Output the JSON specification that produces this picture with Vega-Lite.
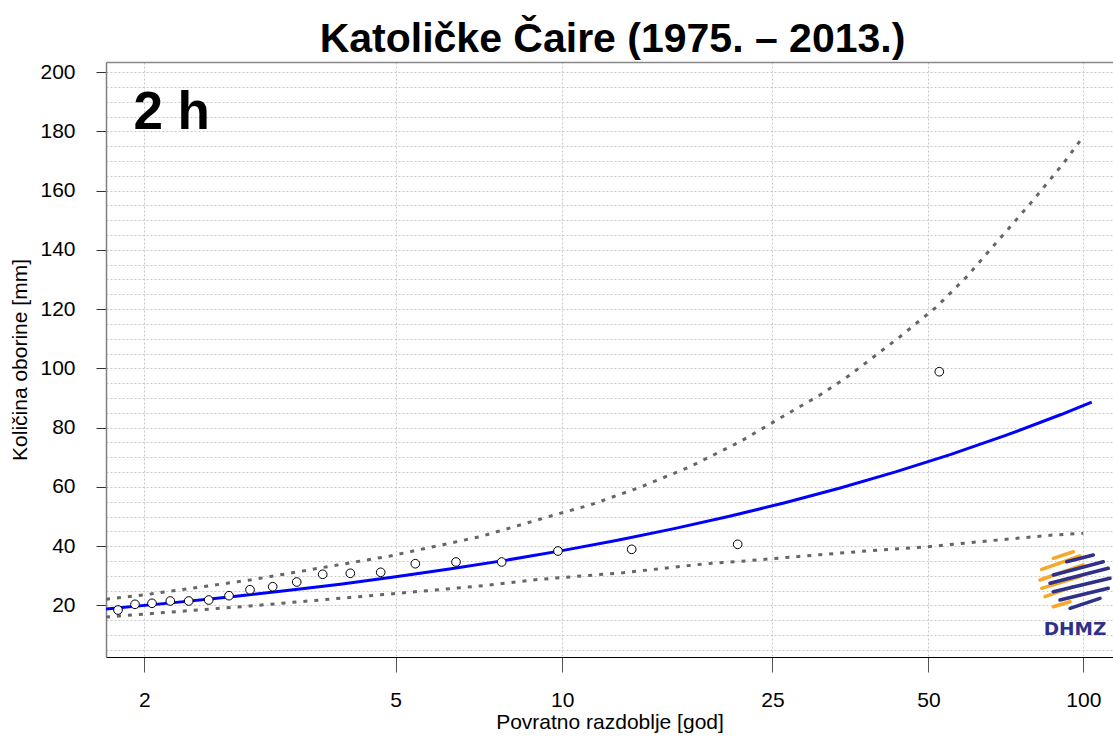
{
  "$schema": "https://vega.github.io/schema/vega-lite/v6.json",
  "width": 1007,
  "height": 595,
  "autosize": {"type": "none"},
  "padding": {"left": 106, "top": 62, "right": 0, "bottom": 80},
  "background": "white",
  "title": {
    "text": "Katoličke Čaire (1975. – 2013.)",
    "font": "Liberation Sans",
    "fontSize": 41,
    "fontWeight": "bold",
    "color": "black",
    "anchor": "middle",
    "baseline": "alphabetic",
    "offset": -42,
    "dx": 3
  },
  "config": {"view": {"stroke": null}, "font": "Liberation Sans"},
  "datasets": {
    "points": [
      {"u": 0.2479, "mm": 18.46}, {"u": 0.3245, "mm": 20.38}, {"u": 0.4012, "mm": 20.72},
      {"u": 0.4837, "mm": 21.5}, {"u": 0.5667, "mm": 21.5}, {"u": 0.6568, "mm": 21.83},
      {"u": 0.7484, "mm": 23.29}, {"u": 0.843, "mm": 25.31}, {"u": 0.9454, "mm": 26.32},
      {"u": 1.0536, "mm": 27.91}, {"u": 1.1708, "mm": 30.51}, {"u": 1.2953, "mm": 30.85},
      {"u": 1.4323, "mm": 31.18}, {"u": 1.5883, "mm": 34.08}, {"u": 1.7718, "mm": 34.66},
      {"u": 1.9778, "mm": 34.66}, {"u": 2.2317, "mm": 38.37}, {"u": 2.5639, "mm": 38.94},
      {"u": 3.0418, "mm": 40.63}, {"u": 3.9508, "mm": 98.88}
    ],
    "fit": [
      {"u": 0.1938, "mm": 18.83}, {"u": 0.5, "mm": 20.95}, {"u": 0.75, "mm": 22.85},
      {"u": 1.0, "mm": 24.92}, {"u": 1.25, "mm": 27.18}, {"u": 1.5, "mm": 29.65},
      {"u": 1.75, "mm": 32.35}, {"u": 2.0, "mm": 35.29}, {"u": 2.25, "mm": 38.5},
      {"u": 2.5, "mm": 42.01}, {"u": 2.75, "mm": 45.84}, {"u": 3.0, "mm": 50.01},
      {"u": 3.25, "mm": 54.57}, {"u": 3.5, "mm": 59.55}, {"u": 3.75, "mm": 64.97},
      {"u": 4.0, "mm": 70.9}, {"u": 4.25, "mm": 77.37}, {"u": 4.5, "mm": 84.43},
      {"u": 4.638, "mm": 88.6}
    ],
    "upper": [
      {"u": 0.1938, "mm": 22.1}, {"u": 0.362, "mm": 23.52}, {"u": 0.843, "mm": 28.58},
      {"u": 1.4742, "mm": 36.68}, {"u": 1.88, "mm": 43.2}, {"u": 2.2407, "mm": 51.09},
      {"u": 2.376, "mm": 53.89}, {"u": 2.6014, "mm": 59.87}, {"u": 2.8268, "mm": 66.82},
      {"u": 3.0523, "mm": 75.26}, {"u": 3.2777, "mm": 85.18}, {"u": 3.413, "mm": 91.02},
      {"u": 3.5482, "mm": 97.77}, {"u": 3.7737, "mm": 110.69}, {"u": 3.9392, "mm": 120.82},
      {"u": 4.0744, "mm": 130.94}, {"u": 4.225, "mm": 143.9}, {"u": 4.3752, "mm": 156.83},
      {"u": 4.5104, "mm": 169.21}, {"u": 4.5979, "mm": 177.99}
    ],
    "lower": [
      {"u": 0.1938, "mm": 16.1}, {"u": 0.843, "mm": 19.81}, {"u": 1.4742, "mm": 23.86},
      {"u": 1.88, "mm": 26.56}, {"u": 2.1505, "mm": 28.82}, {"u": 2.5261, "mm": 31.05},
      {"u": 2.8867, "mm": 33.98}, {"u": 3.0896, "mm": 35.1}, {"u": 3.413, "mm": 37.12},
      {"u": 3.6384, "mm": 38.47}, {"u": 3.9013, "mm": 39.82}, {"u": 4.1646, "mm": 41.75},
      {"u": 4.4649, "mm": 43.77}, {"u": 4.6001, "mm": 44.34}
    ],
    "labels": [
      {"u": 0.3173, "mm": 180.79, "label": "2 h"}
    ],
    "brand": [
      {"u": 4.5626, "mm": 10.02, "label": "DHMZ"}
    ],
    "logo": [
      {"u": 4.4648, "mm": 35.91, "u2": 4.555, "mm2": 38.13, "g": "a"},
      {"u": 4.4125, "mm": 32.19, "u2": 4.5851, "mm2": 36.68, "g": "a"},
      {"u": 4.4048, "mm": 28.58, "u2": 4.6, "mm2": 33.65, "g": "a"},
      {"u": 4.4125, "mm": 25.78, "u2": 4.5851, "mm2": 29.7, "g": "a"},
      {"u": 4.4273, "mm": 22.95, "u2": 4.555, "mm2": 26.32, "g": "a"},
      {"u": 4.4648, "mm": 19.57, "u2": 4.5401, "mm2": 21.26, "g": "a"},
      {"u": 4.5251, "mm": 34.76, "u2": 4.6451, "mm2": 37.02, "g": "b"},
      {"u": 4.4648, "mm": 30.27, "u2": 4.6902, "mm2": 34.76, "g": "b"},
      {"u": 4.4499, "mm": 27.47, "u2": 4.7127, "mm2": 32.53, "g": "b"},
      {"u": 4.4648, "mm": 24.64, "u2": 4.7204, "mm2": 29.16, "g": "b"},
      {"u": 4.495, "mm": 21.83, "u2": 4.7127, "mm2": 25.78, "g": "b"},
      {"u": 4.5401, "mm": 19.03, "u2": 4.6753, "mm2": 22.4, "g": "b"}
    ]
  },
  "encoding": {
    "x": {
      "field": "u",
      "type": "quantitative",
      "scale": {"domain": [0.1938, 4.734], "nice": false, "zero": false},
      "axis": {
        "values": [0.3665, 1.4999, 2.2504, 3.1985, 3.9019, 4.6001],
        "labelExpr": "datum.value < 1 ? '2' : datum.value < 2 ? '5' : datum.value < 3 ? '10' : datum.value < 3.5 ? '25' : datum.value < 4.2 ? '50' : '100'",
        "title": "Povratno razdoblje [god]",
        "titleFont": "Liberation Sans",
        "titleFontSize": 21,
        "titleFontWeight": "normal",
        "titleColor": "black",
        "titlePadding": 1,
        "labelFont": "Liberation Sans",
        "labelFontSize": 21,
        "labelColor": "black",
        "labelPadding": 17,
        "labelFlush": false,
        "labelOverlap": false,
        "tickSize": 15,
        "tickColor": "#555555",
        "tickWidth": 1,
        "domainColor": "#000000",
        "domainWidth": 1,
        "grid": true,
        "gridColor": "#c8c8c8",
        "gridDash": [2, 2],
        "gridWidth": 1
      }
    },
    "y": {
      "field": "mm",
      "type": "quantitative",
      "scale": {"domain": [2.6, 203.4], "nice": false, "zero": false},
      "axis": {
        "values": [5, 10, 15, 20, 25, 30, 35, 40, 45, 50, 55, 60, 65, 70, 75, 80, 85, 90, 95, 100, 105, 110, 115, 120, 125, 130, 135, 140, 145, 150, 155, 160, 165, 170, 175, 180, 185, 190, 195, 200, 203.4],
        "labelExpr": "datum.value % 20 === 0 ? datum.label : ''",
        "title": "Količina oborine [mm]",
        "titleFont": "Liberation Sans",
        "titleFontSize": 21,
        "titleFontWeight": "normal",
        "titleColor": "black",
        "titlePadding": 9,
        "labelFont": "Liberation Sans",
        "labelFontSize": 21,
        "labelColor": "black",
        "labelPadding": 21,
        "labelOverlap": false,
        "labelFlush": false,
        "tickSize": 10,
        "tickColor": "#333333",
        "tickWidth": 1,
        "tickOpacity": {"condition": {"test": "datum.value % 20 !== 0", "value": 0}, "value": 1},
        "domainColor": "#808080",
        "domainWidth": 1.5,
        "grid": true,
        "gridColor": {"condition": {"test": "datum.value > 203", "value": "#888888"}, "value": "#c8c8c8"},
        "gridDash": {"condition": {"test": "datum.value > 203", "value": []}, "value": [2, 2]},
        "gridWidth": {"condition": {"test": "datum.value > 203", "value": 1.5}, "value": 1}
      }
    }
  },
  "layer": [
    {
      "data": {"name": "lower"},
      "mark": {"type": "line", "color": "#666666", "strokeWidth": 3, "strokeDash": [4, 7], "clip": true}
    },
    {
      "data": {"name": "upper"},
      "mark": {"type": "line", "color": "#666666", "strokeWidth": 3, "strokeDash": [4, 7], "clip": true}
    },
    {
      "data": {"name": "fit"},
      "mark": {"type": "line", "color": "#0000ff", "strokeWidth": 3, "clip": true}
    },
    {
      "data": {"name": "points"},
      "mark": {"type": "point", "shape": "circle", "size": 75, "filled": false, "fill": "white", "fillOpacity": 1, "stroke": "black", "strokeWidth": 1, "opacity": 1}
    },
    {
      "data": {"name": "labels"},
      "mark": {"type": "text", "align": "left", "baseline": "alphabetic", "font": "Liberation Sans", "fontSize": 53, "fontWeight": "bold", "color": "black"},
      "encoding": {"text": {"field": "label", "type": "nominal"}}
    },
    {
      "data": {"name": "logo"},
      "mark": {"type": "rule", "strokeWidth": 3.5, "strokeCap": "round"},
      "encoding": {
        "x2": {"field": "u2"},
        "y2": {"field": "mm2"},
        "color": {"field": "g", "type": "nominal", "scale": {"domain": ["a", "b"], "range": ["#f5a82a", "#2e3187"]}, "legend": null}
      }
    },
    {
      "data": {"name": "brand"},
      "mark": {"type": "text", "align": "center", "baseline": "alphabetic", "font": "DejaVu Sans", "fontSize": 18.5, "fontWeight": "bold", "color": "#2e3187"},
      "encoding": {"text": {"field": "label", "type": "nominal"}}
    }
  ]
}
